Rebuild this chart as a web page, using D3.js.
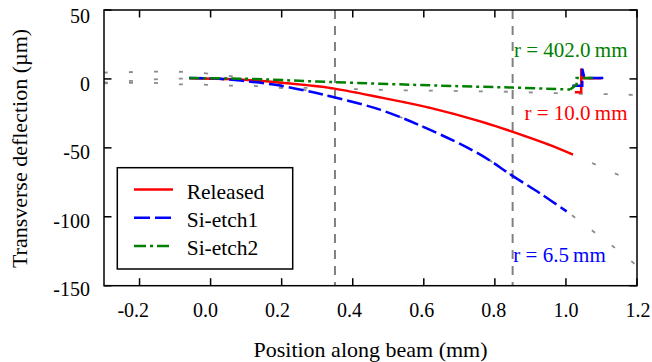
<!DOCTYPE html>
<html>
<head>
<meta charset="utf-8">
<script src="https://cdn.jsdelivr.net/npm/d3@7/dist/d3.min.js"></script>
<style>
    body { margin: 0; background: #fff; }
    .chart text { font-family: "Liberation Serif", serif; fill: #000; }
</style>
</head>
<body>
<div class="chart"></div>
<script>
var xTicks = [-0.2, 0.0, 0.2, 0.4, 0.6, 0.8, 1.0, 1.2];
var xTickLabels = ['-0.2', '0.0', '0.2', '0.4', '0.6', '0.8', '1.0', '1.2'];
var yTicks = [50, 0, -50, -100, -150];
var yTickLabels = ['50', '0', '-50', '-100', '-150'];
var markerPositions = [0.35, 0.85];

var seriesNames = ['Released', 'Si-etch1', 'Si-etch2'];
var radiusLabels = ['r = 10.0\u2009mm', 'r = 6.5\u2009mm', 'r = 402.0\u2009mm'];

// measured profiles along the beam
var releasedX = [-0.06, 0.0, 0.084, 0.177, 0.27, 0.336, 0.477, 0.618, 0.759, 0.881, 0.95, 1.02];
var releasedY = [0.4, 0.2, -0.4, -2.2, -4.5, -6.5, -13.4, -21.0, -30.8, -41.1, -47.5, -54.9];
var etch1X = [-0.06, 0.0, 0.084, 0.177, 0.27, 0.336, 0.477, 0.618, 0.759, 0.852, 0.93, 1.002];
var etch1Y = [0.6, 0.4, -1.2, -4.1, -8.6, -12.6, -22.3, -37.0, -54.9, -70.7, -83.5, -96.1];
var etch2X = [-0.06, 0.084, 0.336, 0.646, 0.85, 1.012];
var etch2Y = [0.6, 0.2, -2.2, -4.9, -6.3, -7.7];

// steps where the trace leaves the beam tip
var releasedTipX = [1.025, 1.043, 1.043, 1.05, 1.1];
var releasedTipY = [-9.7, -9.7, 7.5, 0.5, 0.5];
var etch1TipX = [1.018, 1.046, 1.046, 1.052, 1.115];
var etch1TipY = [-4.9, -4.9, 7.3, 0.7, 0.7];
var etch2TipX = [1.012, 1.03, 1.03, 1.08];
var etch2TipY = [-7.7, -4.1, 0.7, 0.7];

// fitted curves, shown dotted
var fitReleasedX = [-0.3, -0.269, -0.2, -0.13, -0.06, 0.084, 0.2, 0.336, 0.477, 0.618, 0.759, 0.881, 1.02, 1.094, 1.157, 1.2];
var fitReleasedY = [-3.3, -2.5, -1.0, 0.0, 0.3, -0.4, -2.5, -6.5, -13.4, -21.0, -30.8, -41.1, -54.9, -63.4, -70.7, -75.8];
var fitEtch1X = [-0.3, -0.24, -0.17, -0.1, -0.03, 0.04, 0.11, 0.2, 0.336, 0.477, 0.618, 0.759, 0.852, 1.002, 1.058, 1.115, 1.171, 1.2];
var fitEtch1Y = [4.6, 4.9, 5.3, 5.3, 4.4, 2.6, 0.2, -4.1, -12.6, -22.3, -37.0, -54.9, -70.7, -96.1, -107.0, -117.9, -129.5, -135.5];
var fitEtch2X = [-0.3, -0.233, -0.162, -0.093, -0.022, 0.047, 0.117, 0.187, 0.257, 0.398, 0.466, 0.536, 0.606, 0.676, 0.746, 0.817, 0.887, 0.955, 1.026, 1.096, 1.166, 1.2];
var fitEtch2Y = [-2.6, -2.9, -2.9, -3.9, -4.1, -4.9, -4.9, -6.5, -6.5, -7.3, -7.8, -8.3, -8.5, -8.7, -9.0, -9.2, -9.7, -10.2, -10.7, -10.9, -11.4, -11.6];

(function() {
    var options = {
        width: 652,
        height: 362,
        left: 104,
        right: 637,
        top: 10,
        bottom: 285.7,
        tickSize: 7.5
    };

    var zip = function(xs, ys) {
        return xs.map(function(x, i) { return [x, ys[i]]; });
    };

    var svg = d3.select('.chart')
        .append('svg')
        .attr('width', options.width)
        .attr('height', options.height);

    var x = d3.scaleLinear().domain([-0.3, 1.2]).range([options.left, options.right]);
    var y = d3.scaleLinear().domain([-150, 50]).range([options.bottom, options.top]);

    // tick labels sit on a slightly wider grid than the ticks in the original
    var xLabel = d3.scaleLinear().domain([-0.2, 1.2]).range([133.3, 638]);
    var yLabel = d3.scaleLinear().domain([-150, 50]).range([296, 22.6]);

    svg.append('clipPath')
        .attr('id', 'plot-clip')
        .append('rect')
        .attr('x', options.left)
        .attr('y', options.top)
        .attr('width', options.right - options.left)
        .attr('height', options.bottom - options.top);

    var plot = svg.append('g').attr('clip-path', 'url(#plot-clip)');

    var smoothLine = d3.line()
        .curve(d3.curveCatmullRom.alpha(0.5))
        .x(function(d) { return x(d[0]); })
        .y(function(d) { return y(d[1]); });

    var stepLine = d3.line()
        .x(function(d) { return x(d[0]); })
        .y(function(d) { return y(d[1]); });

    [[fitReleasedX, fitReleasedY], [fitEtch1X, fitEtch1Y], [fitEtch2X, fitEtch2Y]].forEach(function(fit) {
        plot.append('path')
            .attr('d', smoothLine(zip(fit[0], fit[1])))
            .attr('fill', 'none')
            .attr('stroke', '#8c8c8c')
            .attr('stroke-width', 1.8)
            .attr('stroke-dasharray', '4,21');
    });

    markerPositions.forEach(function(p) {
        plot.append('line')
            .attr('x1', x(p)).attr('x2', x(p))
            .attr('y1', options.top).attr('y2', options.bottom)
            .attr('stroke', '#808080')
            .attr('stroke-width', 2)
            .attr('stroke-dasharray', '9,7');
    });

    var styles = [
        { color: '#ff0000', dash: null },
        { color: '#0000ff', dash: '15,5' },
        { color: '#008000', dash: '10,4,3,4' }
    ];
    var series = [zip(releasedX, releasedY), zip(etch1X, etch1Y), zip(etch2X, etch2Y)];
    var tips = [zip(releasedTipX, releasedTipY), zip(etch1TipX, etch1TipY), zip(etch2TipX, etch2TipY)];

    series.forEach(function(data, i) {
        plot.append('path')
            .attr('d', smoothLine(data))
            .attr('fill', 'none')
            .attr('stroke', styles[i].color)
            .attr('stroke-width', 2.5)
            .attr('stroke-dasharray', styles[i].dash);

        plot.append('path')
            .attr('d', stepLine(tips[i]))
            .attr('fill', 'none')
            .attr('stroke', styles[i].color)
            .attr('stroke-width', 2.5)
            .attr('stroke-dasharray', styles[i].dash);
    });

    // frame and inward ticks on all four sides
    var frame = svg.append('g').attr('stroke', '#000').attr('stroke-width', 1.5);

    frame.append('rect')
        .attr('x', options.left)
        .attr('y', options.top)
        .attr('width', options.right - options.left)
        .attr('height', options.bottom - options.top)
        .attr('fill', 'none');

    xTicks.forEach(function(t) {
        frame.append('line').attr('x1', x(t)).attr('x2', x(t))
            .attr('y1', options.bottom).attr('y2', options.bottom - options.tickSize);
        frame.append('line').attr('x1', x(t)).attr('x2', x(t))
            .attr('y1', options.top).attr('y2', options.top + options.tickSize);
    });

    yTicks.forEach(function(t) {
        frame.append('line').attr('y1', y(t)).attr('y2', y(t))
            .attr('x1', options.left).attr('x2', options.left + options.tickSize);
        frame.append('line').attr('y1', y(t)).attr('y2', y(t))
            .attr('x1', options.right).attr('x2', options.right - options.tickSize);
    });

    svg.append('g').selectAll('text')
        .data(xTicks)
        .enter().append('text')
        .attr('x', function(d) { return xLabel(d); })
        .attr('y', 316.7)
        .attr('text-anchor', 'middle')
        .style('font-size', '20px')
        .text(function(d, i) { return xTickLabels[i]; });

    svg.append('g').selectAll('text')
        .data(yTicks)
        .enter().append('text')
        .attr('x', 90)
        .attr('y', function(d) { return yLabel(d); })
        .attr('text-anchor', 'end')
        .style('font-size', '20px')
        .text(function(d, i) { return yTickLabels[i]; });

    svg.append('text')
        .attr('x', (options.left + options.right) / 2)
        .attr('y', 356.5)
        .attr('text-anchor', 'middle')
        .style('font-size', '22px')
        .text('Position along beam (mm)');

    svg.append('text')
        .attr('transform', 'translate(27, 148.5) rotate(-90)')
        .attr('text-anchor', 'middle')
        .style('font-size', '22px')
        .text('Transverse deflection (\u00b5m)');

    // curvature annotations
    var annotations = [
        { x: 627.5, y: 120, anchor: 'end' },
        { x: 513.3, y: 261.7, anchor: 'start' },
        { x: 627.5, y: 57.3, anchor: 'end' }
    ];
    annotations.forEach(function(a, i) {
        svg.append('text')
            .attr('x', a.x)
            .attr('y', a.y)
            .attr('text-anchor', a.anchor)
            .style('fill', styles[i].color)
            .style('font-size', '21px')
            .text(radiusLabels[i]);
    });

    // legend
    var legend = svg.append('g');
    legend.append('rect')
        .attr('x', 117.3)
        .attr('y', 167.7)
        .attr('width', 175.4)
        .attr('height', 101.3)
        .attr('fill', '#fff')
        .attr('stroke', '#000')
        .attr('stroke-width', 1.5);

    seriesNames.forEach(function(name, i) {
        var rowY = 189.5 + i * 28.2;
        legend.append('line')
            .attr('x1', 134).attr('x2', 173)
            .attr('y1', rowY).attr('y2', rowY)
            .attr('stroke', styles[i].color)
            .attr('stroke-width', 2.5)
            .attr('stroke-dasharray', i == 1 ? '16,5' : (i == 2 ? '12,4,3,4' : null));
        legend.append('text')
            .attr('x', 186.7)
            .attr('y', rowY + 9.5)
            .style('font-size', '21.5px')
            .text(name);
    });
})();
</script>
</body>
</html>
